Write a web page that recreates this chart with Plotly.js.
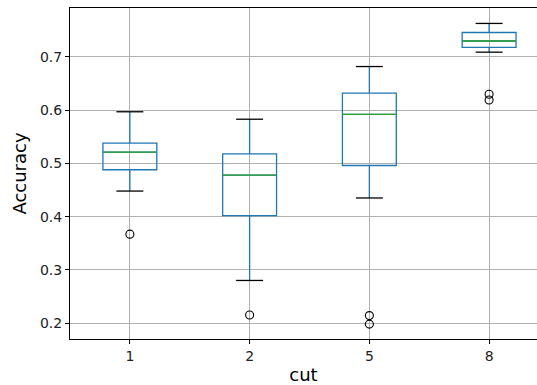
<!DOCTYPE html>
<html><head><meta charset="utf-8">
<script src="https://cdn.plot.ly/plotly-3.0.1.min.js"></script>
<style>html,body{margin:0;padding:0;background:#fff}#chart{width:537px;height:385px}</style>
</head><body><div id="chart"></div>
<script>
const categories = ['1', '2', '5', '8'];
const lowerWhisker = [0.448, 0.280, 0.435, 0.709];
const q1 = [0.488, 0.402, 0.496, 0.718];
const median = [0.521, 0.478, 0.592, 0.730];
const q3 = [0.538, 0.518, 0.632, 0.746];
const upperWhisker = [0.597, 0.583, 0.682, 0.763];
const outliers = [[0.367], [0.215], [0.214, 0.198], [0.630, 0.619]];

const pos = categories.map((c, i) => i + 1);
const boxHalf = 0.225, capHalf = 0.1125;
const blue = '#1f77b4', green = '#2ca02c';

const traces = [];
traces.push({
  type: 'box', x: pos, q1: q1, median: median, q3: q3,
  lowerfence: lowerWhisker, upperfence: upperWhisker,
  width: 2 * boxHalf, whiskerwidth: 0,
  line: {color: blue, width: 1.3}, fillcolor: 'rgba(0,0,0,0)',
  boxpoints: false, hoverinfo: 'skip', showlegend: false
});
// medians
const mx = [], my = [];
pos.forEach((p, i) => { mx.push(p - boxHalf, p + boxHalf, null); my.push(median[i], median[i], null); });
traces.push({type: 'scatter', mode: 'lines', x: mx, y: my, line: {color: green, width: 1.3}, showlegend: false, hoverinfo: 'skip'});
// caps
const cx = [], cy = [];
pos.forEach((p, i) => {
  [lowerWhisker[i], upperWhisker[i]].forEach(v => { cx.push(p - capHalf, p + capHalf, null); cy.push(v, v, null); });
});
traces.push({type: 'scatter', mode: 'lines', x: cx, y: cy, line: {color: '#000', width: 1.3}, showlegend: false, hoverinfo: 'skip'});
// outliers
const ox = [], oy = [];
outliers.forEach((arr, i) => arr.forEach(v => { ox.push(pos[i]); oy.push(v); }));
traces.push({type: 'scatter', mode: 'markers', x: ox, y: oy,
  marker: {symbol: 'circle-open', size: 8, color: '#000', line: {width: 1.1, color: '#000'}},
  showlegend: false, hoverinfo: 'skip'});

const layout = {
  width: 537, height: 385,
  margin: {l: 70, r: 0, t: 8, b: 46},
  paper_bgcolor: '#fff', plot_bgcolor: '#fff',
  font: {family: 'DejaVu Sans', size: 12, color: '#000'},
  showlegend: false,
  xaxis: {
    range: [0.5, 4.4], tickvals: pos, ticktext: categories,
    showgrid: true, gridcolor: '#b0b0b0', gridwidth: 1,
    showline: true, mirror: true, linecolor: '#000', linewidth: 1,
    ticks: 'outside', ticklen: 4, tickcolor: '#000', zeroline: false,
    tickfont: {size: 14, color: '#222'},
    title: {text: 'cut', font: {size: 18}, standoff: 6}
  },
  yaxis: {
    range: [0.170, 0.792], tickvals: [0.2, 0.3, 0.4, 0.5, 0.6, 0.7],
    ticktext: ['0.2', '0.3', '0.4', '0.5', '0.6', '0.7'],
    showgrid: true, gridcolor: '#b0b0b0', gridwidth: 1,
    showline: true, linecolor: '#000', linewidth: 1,
    ticks: 'outside', ticklen: 4, tickcolor: '#000', zeroline: false,
    tickfont: {size: 14, color: '#222'},
    title: {text: 'Accuracy', font: {size: 18}, standoff: 8}
  }
};
Plotly.newPlot('chart', traces, layout, {displayModeBar: false, staticPlot: true});
</script></body></html>
